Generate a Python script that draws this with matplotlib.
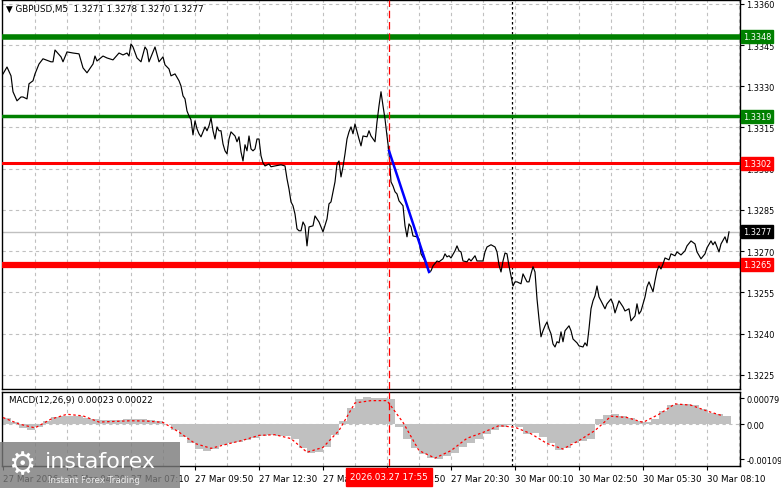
import matplotlib
matplotlib.use("Agg")
import matplotlib.pyplot as plt
import matplotlib.transforms as mtransforms
from matplotlib.patches import Rectangle

# ---------------- data ----------------
title_text = "GBPUSD,M5  1.3271 1.3278 1.3270 1.3277"
macd_title = "MACD(12,26,9) 0.00023 0.00022"

bars = [0, 2, 4, 5, 7, 9, 10, 12, 13, 15, 16, 18, 20, 24, 25, 26, 29, 30, 32, 35,
        38, 40, 42, 45, 46, 47, 50, 52, 55, 58, 60, 62, 63, 64, 65, 67, 69, 71, 72, 73,
        76, 78, 80, 81, 83, 84, 86, 88, 89, 90, 91, 92, 93, 94, 95, 96, 97, 98, 99, 101,
        102, 103, 104, 105, 106, 107, 108, 109, 110, 111, 112, 113, 114, 116, 117, 118, 119, 120, 121, 122,
        123, 124, 125, 126, 127, 128, 129, 130, 131, 133, 134, 136, 139, 141, 142, 143, 144, 145, 146, 147,
        148, 149, 150, 151, 152, 153, 155, 156, 158, 160, 162, 163, 164, 166, 167, 168, 169, 170, 171, 172,
        173, 174, 175, 176, 178, 179, 180, 182, 183, 184, 186, 187, 188, 189, 190, 191, 192, 193, 194, 195,
        196, 197, 198, 200, 201, 202, 203, 204, 205, 207, 208, 209, 211, 212, 213, 214, 215, 217, 218, 220,
        221, 222, 223, 224, 226, 227, 228, 229, 230, 232, 233, 234, 236, 237, 240, 241, 242, 244, 246, 247,
        248, 249, 250, 251, 252, 253, 254, 255, 256, 257, 259, 260, 262, 263, 264, 265, 266, 267, 268, 269,
        270, 271, 272, 273, 274, 275, 276, 277, 278, 279, 280, 281, 283, 284, 285, 287, 288, 290, 291, 292,
        293, 294, 295, 296, 297, 298, 299, 301, 302, 304, 305, 306, 308, 310, 311, 313, 314, 316, 317, 318,
        319, 321, 322, 323, 325, 326, 327, 328, 329, 330, 331, 333, 334, 336, 337, 339, 341, 342, 344, 346,
        347, 349, 351, 352, 354, 355, 356, 358, 359, 361, 362, 363]

close = [1.33345, 1.33370, 1.33338, 1.33280, 1.33247, 1.33261, 1.33261, 1.33254, 1.33309, 1.33320,
         1.33345, 1.33381, 1.33400, 1.33389, 1.33389, 1.33432, 1.33407, 1.33389, 1.33425, 1.33421,
         1.33418, 1.33367, 1.33349, 1.33381, 1.33410, 1.33392, 1.33410, 1.33403, 1.33396, 1.33421,
         1.33414, 1.33421, 1.33410, 1.33454, 1.33443, 1.33403, 1.33389, 1.33443, 1.33432, 1.33389,
         1.33443, 1.33389, 1.33407, 1.33378, 1.33363, 1.33338, 1.33345, 1.33320, 1.33301, 1.33265,
         1.33254, 1.33210, 1.33192, 1.33178, 1.33123, 1.33174, 1.33145, 1.33127, 1.33116, 1.33152,
         1.33138, 1.33156, 1.33185, 1.33138, 1.33108, 1.33152, 1.33138, 1.33138, 1.33090, 1.33065,
         1.33054, 1.33108, 1.33134, 1.33119, 1.33098, 1.33116, 1.33061, 1.33028, 1.33087, 1.33065,
         1.33119, 1.33072, 1.33065, 1.33072, 1.33108, 1.33108, 1.33047, 1.33021, 1.33010, 1.33017,
         1.33007, 1.33010, 1.33014, 1.33010, 1.32963, 1.32926, 1.32879, 1.32865, 1.32835, 1.32781,
         1.32774, 1.32774, 1.32806, 1.32792, 1.32719, 1.32788, 1.32792, 1.32828, 1.32806, 1.32770,
         1.32817, 1.32872, 1.32879, 1.32952, 1.33017, 1.33028, 1.32970, 1.33007, 1.33054, 1.33108,
         1.33134, 1.33152, 1.33127, 1.33163, 1.33108, 1.33083, 1.33119, 1.33116, 1.33138, 1.33119,
         1.33098, 1.33170, 1.33229, 1.33280, 1.33229, 1.33181, 1.33119, 1.33061, 1.32952, 1.32937,
         1.32916, 1.32908, 1.32883, 1.32865, 1.32792, 1.32752, 1.32799, 1.32788, 1.32755, 1.32752,
         1.32744, 1.32690, 1.32664, 1.32643, 1.32624, 1.32628, 1.32646, 1.32664, 1.32661, 1.32672,
         1.32690, 1.32679, 1.32683, 1.32675, 1.32701, 1.32719, 1.32701, 1.32697, 1.32664, 1.32661,
         1.32672, 1.32664, 1.32683, 1.32664, 1.32664, 1.32697, 1.32715, 1.32723, 1.32715, 1.32697,
         1.32650, 1.32624, 1.32664, 1.32693, 1.32690, 1.32646, 1.32610, 1.32573, 1.32588, 1.32588,
         1.32581, 1.32617, 1.32588, 1.32588, 1.32617, 1.32643, 1.32624, 1.32526, 1.32453, 1.32388,
         1.32410, 1.32428, 1.32442, 1.32417, 1.32399, 1.32362, 1.32351, 1.32370, 1.32366, 1.32406,
         1.32370, 1.32410, 1.32428, 1.32410, 1.32380, 1.32366, 1.32355, 1.32351, 1.32366, 1.32355,
         1.32417, 1.32490, 1.32519, 1.32537, 1.32573, 1.32533, 1.32519, 1.32490, 1.32508, 1.32526,
         1.32508, 1.32475, 1.32519, 1.32497, 1.32482, 1.32490, 1.32446, 1.32464, 1.32508, 1.32471,
         1.32482, 1.32533, 1.32570, 1.32588, 1.32552, 1.32592, 1.32628, 1.32646, 1.32635, 1.32653,
         1.32675, 1.32668, 1.32690, 1.32683, 1.32697, 1.32686, 1.32701, 1.32719, 1.32737, 1.32726,
         1.32697, 1.32672, 1.32690, 1.32712, 1.32737, 1.32723, 1.32734, 1.32697, 1.32726, 1.32752,
         1.32730, 1.32770]

green_levels = [1.3348, 1.3319]
green_widths = [4.0, 2.5]
red_levels = [1.3302, 1.3265]
red_widths = [2.2, 4.5]
bid_price = 1.3277

trend_bars = [193, 213]
trend_prices = [1.33065, 1.32624]

cursor_bar = 193
cursor_label = "2026.03.27 17:55"
day_separator_bar = 254.5

price_ticks = [1.3360, 1.3345, 1.3330, 1.3315, 1.3300, 1.3285, 1.3270, 1.3255, 1.3240, 1.3225]

time_label_bars = [0, 32, 64, 96, 128, 160, 192, 224, 256, 288, 320, 352]
time_labels = ["27 Mar 2026", "27 Mar 04:30", "27 Mar 07:10", "27 Mar 09:50",
               "27 Mar 12:30", "27 Mar 15:10", "27 Mar 17:50", "27 Mar 20:30",
               "30 Mar 00:10", "30 Mar 02:50", "30 Mar 05:30", "30 Mar 08:10"]
grid_bars = list(range(16, 369, 16))

macd_bars = list(range(0, 364, 4))
macd_hist = [0.00017, 0.00005, -0.00012, -0.00020, -0.00010, 0.00010, 0.00022, 0.00026, 0.00026, 0.00024,
             0.00020, 0.00015, 0.00012, 0.00012, 0.00013, 0.00014, 0.00016, 0.00015, 0.00012, 0.00008,
             0.00000, -0.00018, -0.00040, -0.00060, -0.00078, -0.00082, -0.00076, -0.00066, -0.00060, -0.00055,
             -0.00050, -0.00044, -0.00038, -0.00035, -0.00036, -0.00038, -0.00045, -0.00075, -0.00090, -0.00085,
             -0.00070, -0.00035, 0.00010, 0.00050, 0.00078, 0.00082, 0.00080, 0.00080, 0.00077, -0.00010,
             -0.00045, -0.00075, -0.00092, -0.00105, -0.00108, -0.00100, -0.00088, -0.00072, -0.00058, -0.00045,
             -0.00030, -0.00018, -0.00010, -0.00004, -0.00008, -0.00030, -0.00028, -0.00040, -0.00060, -0.00080,
             -0.00075, -0.00058, -0.00052, -0.00045, 0.00015, 0.00028, 0.00030, 0.00026, 0.00020, 0.00008,
             0.00005, 0.00015, 0.00040, 0.00060, 0.00062, 0.00062, 0.00058, 0.00045, 0.00035, 0.00030,
             0.00025]
signal_bars = list(range(0, 364, 8))
macd_signal = [0.00020, 0.00000, -0.00012, 0.00015, 0.00030, 0.00025, 0.00006, 0.00008, 0.00010, 0.00009,
               0.00005, -0.00025, -0.00060, -0.00075, -0.00062, -0.00050, -0.00035, -0.00033, -0.00045, -0.00087,
               -0.00072, -0.00020, 0.00065, 0.00072, 0.00072, 0.00005, -0.00082, -0.00105, -0.00082, -0.00044,
               -0.00026, -0.00005, -0.00010, -0.00030, -0.00060, -0.00077, -0.00051, -0.00020, 0.00024, 0.00020,
               0.00005, 0.00030, 0.00062, 0.00058, 0.00040, 0.00025]
macd_ticks = [0.00079, 0.0, -0.00109]
macd_tick_labels = ["0.00079", "0.00", "-0.00109"]

# ---------------- layout ----------------
W, H = 781, 489
FS = 6.3
YFS = 5.9
plt.rcParams['font.family'] = ['DejaVu Sans']
fig = plt.figure(figsize=(W / 100, H / 100), dpi=100)
fig.patch.set_facecolor('white')

ax = fig.add_axes([2 / W, 1 - 390 / H, 738 / W, 389 / H])
ax2 = fig.add_axes([2 / W, 1 - 467 / H, 738 / W, 74 / H])

grid_kw = dict(color='#c0c0c0', lw=0.8, dashes=(3, 3), zorder=0)
for a in (ax, ax2):
    for b in grid_bars:
        a.axvline(b, **grid_kw)
    a.axvline(day_separator_bar, color='black', lw=0.9, dashes=(2, 2), zorder=1)
    a.axvline(cursor_bar, color='red', lw=0.9, dashes=(6, 3), zorder=5)
    a.set_xlim(-0.5, 368.5)
    for s in a.spines.values():
        s.set_color('black')
        s.set_linewidth(1.0)

# main panel
for p in price_ticks:
    ax.axhline(p, **grid_kw)
ax.axhline(bid_price, color='#c0c0c0', lw=1.0, zorder=1)
for lv, w in zip(green_levels, green_widths):
    ax.axhline(lv, color='#008000', lw=w, zorder=3)
for lv, w in zip(red_levels, red_widths):
    ax.axhline(lv, color='#ff0000', lw=w, zorder=3)
ax.plot(bars, close, color='black', lw=0.85, zorder=4)
ax.plot(trend_bars, trend_prices, color='#0000ff', lw=1.8, zorder=6)

ax.set_ylim(1.32198, 1.33614)
ax.yaxis.tick_right()
ax.set_yticks(price_ticks)
ax.set_yticklabels([f"{p:.4f}" for p in price_ticks])
ax.tick_params(axis='y', length=3, pad=1.5, labelsize=YFS, colors='black')
ax.set_xticks([])

# right-side colored price labels
def price_box(value, color):
    ax.annotate(f"{value:.4f}", xy=(1.0, value), xycoords=('axes fraction', 'data'),
                xytext=(2, 0), textcoords='offset points', va='center', ha='left',
                fontsize=YFS, color='white', zorder=10, annotation_clip=False,
                bbox=dict(boxstyle='square,pad=0.25', fc=color, ec=color))

price_box(green_levels[0], '#008000')
price_box(green_levels[1], '#008000')
price_box(red_levels[0], '#ff0000')
price_box(bid_price, '#000000')
price_box(red_levels[1], '#ff0000')

fig.text(6 / W, 1 - 9 / H, "\u25BC " + title_text, fontsize=FS, va='center', ha='left')

# MACD panel
ax2.axhline(0, **grid_kw)
ax2.bar(macd_bars, macd_hist, width=4, align='edge', color='#c0c0c0', lw=0, zorder=2)
ax2.plot(signal_bars, macd_signal, color='red', lw=0.9, dashes=(2, 2), zorder=4)
ax2.set_ylim(-0.001294, 0.000986)
ax2.yaxis.tick_right()
ax2.set_yticks(macd_ticks)
ax2.set_yticklabels(macd_tick_labels)
ax2.tick_params(axis='y', length=3, pad=1.5, labelsize=YFS)
ax2.set_xticks(time_label_bars)
ax2.set_xticklabels(time_labels, ha='left', fontsize=FS)
ax2.tick_params(axis='x', length=3, pad=3)
ax2.text(7 / 738, 1 - 8 / 74, macd_title, transform=ax2.transAxes, fontsize=FS,
         va='center', ha='left')

# cursor time label
trans = mtransforms.blended_transform_factory(ax2.transData, fig.transFigure)
fig.text(cursor_bar, 1 - 478 / H, cursor_label, transform=trans, fontsize=FS,
         color='white', ha='center', va='center', zorder=20,
         bbox=dict(boxstyle='square,pad=0.5', fc='red', ec='red'))

# watermark
fig.patches.append(Rectangle((0, 0), 180 / W, 46 / H, transform=fig.transFigure,
                             facecolor='#7a7a7a', alpha=0.8, edgecolor='none', zorder=30))
fig.text(22 / W, 1 - 466 / H, "\u2699", fontsize=22, color='white', ha='center',
         va='center', zorder=31)
fig.text(45 / W, 1 - 462 / H, "instaforex", fontsize=16, color='white', ha='left',
         va='center', zorder=31)
fig.text(48 / W, 1 - 481 / H, "Instant Forex Trading", fontsize=6.3, color='#eeeeee',
         ha='left', va='center', zorder=31)

fig.savefig("out.png", dpi=100)
